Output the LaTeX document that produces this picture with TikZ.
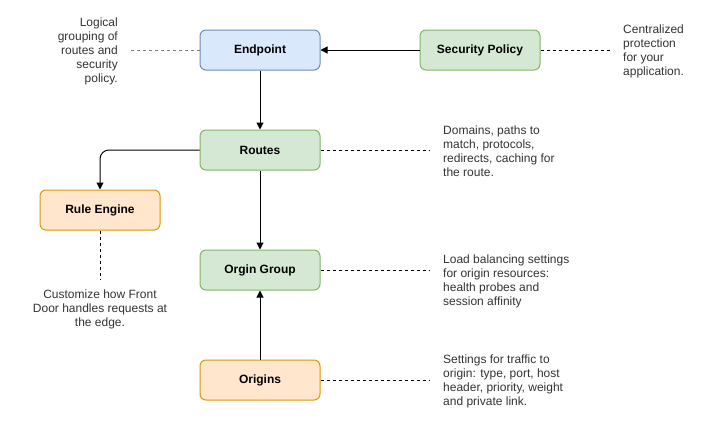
\documentclass[tikz,border=0pt]{standalone}
\usepackage{fontspec}
\setmainfont{Liberation Sans}
\usetikzlibrary{arrows.meta}
\definecolor{blueF}{HTML}{DAE8FC}\definecolor{blueS}{HTML}{6C8EBF}
\definecolor{greenF}{HTML}{D5E8D4}\definecolor{greenS}{HTML}{82B366}
\definecolor{orangeF}{HTML}{FFE6CC}\definecolor{orangeS}{HTML}{D79B00}
\definecolor{txt}{HTML}{333333}
\tikzset{
  box/.style={draw, line width=1pt, rounded corners=6pt, minimum width=120pt, minimum height=40pt, inner sep=0pt, font=\fontsize{12}{14}\selectfont\bfseries, text=black},
  bluebox/.style={box, fill=blueF, draw=blueS},
  greenbox/.style={box, fill=greenF, draw=greenS},
  orangebox/.style={box, fill=orangeF, draw=orangeS},
  note/.style={inner sep=0pt, font=\fontsize{12}{14}\selectfont, text=txt},
  conn/.style={line width=1pt, -{Triangle[length=7pt,width=7pt]}},
  dline/.style={line width=1pt, dash pattern=on 3pt off 3pt}
}
\begin{document}
\begin{tikzpicture}[x=1pt,y=-1pt]
\useasboundingbox (0,0) rectangle (701,431);
\node[bluebox] (ep) at (260,50) {Endpoint};
\node[greenbox] (sp) at (480,50) {Security Policy};
\node[greenbox] (rt) at (260,150) {Routes};
\node[orangebox] (re) at (100,210) {Rule Engine};
\node[greenbox] (og) at (260,270) {Orgin Group};
\node[orangebox] (or) at (260,380) {Origins};

\node[note, anchor=east, align=right] (n1) at (118,51) {Logical\\grouping of\\routes and\\security\\policy.};
\node[note, anchor=west, align=left] (n2) at (623,51) {Centralized\\protection\\for your\\application.};
\node[note, anchor=west, align=left] (n3) at (443,151) {Domains, paths to\\match, protocols,\\redirects, caching for\\the route.};
\node[note, anchor=north, align=center] (n4) at (100,290) {Customize how Front\\Door handles requests at\\the edge.};
\node[note, anchor=west, align=left] (n5) at (443,281) {Load balancing settings\\for origin resources:\\health probes and\\session affinity};
\node[note, anchor=west, align=left] (n6) at (443,381) {Settings for traffic to\\origin: type, port, host\\header, priority, weight\\and private link.};

\coordinate (d1) at (130,50);
\coordinate (d2) at (610,50);
\coordinate (d3) at (430,150);
\coordinate (d4) at (100,280);
\coordinate (d5) at (430,270);
\coordinate (d6) at (430,380);

\draw[dline, gray] (ep.west) -- (d1);
\draw[dline] (sp.east) -- (d2);
\draw[dline] (rt.east) -- (d3);
\draw[dline] (re.south) -- (d4);
\draw[dline] (og.east) -- (d5);
\draw[dline] (or.east) -- (d6);

\draw[conn] (ep.south) -- (rt.north);
\draw[conn] (sp.west) -- (ep.east);
\draw[conn, rounded corners=9pt] (rt.west) -| (re.north);
\draw[conn] (rt.south) -- (og.north);
\draw[conn] (or.north) -- (og.south);
\end{tikzpicture}
\end{document}
